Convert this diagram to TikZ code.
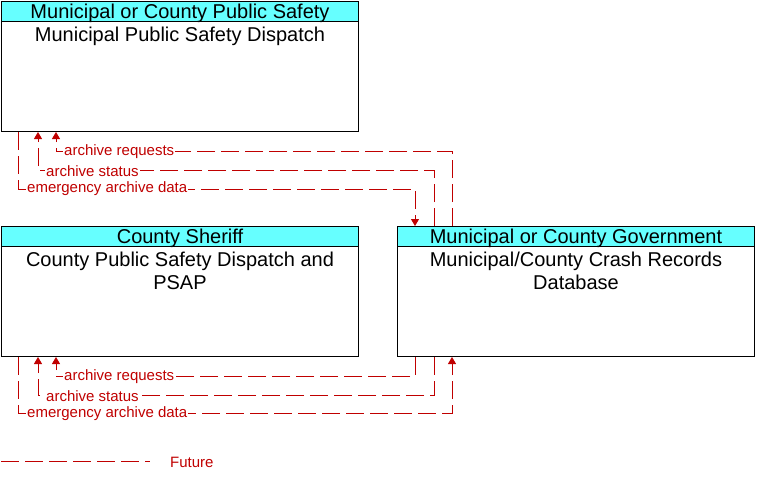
\documentclass[tikz,border=0pt]{standalone}
\usepackage{fontspec}
\setmainfont{Liberation Sans}
\usetikzlibrary{arrows.meta,calc}
\definecolor{flowred}{RGB}{192,0,0}
\definecolor{hdrcyan}{RGB}{102,255,255}
\begin{document}
\begin{tikzpicture}[x=1pt,y=-1pt,
 box/.style={draw=black,line width=1pt,minimum width=357pt,minimum height=130pt,anchor=north west,inner sep=0pt},
 hdr/.style={draw=black,line width=1pt,fill=hdrcyan,minimum width=357pt,minimum height=20pt,anchor=north west,inner sep=0pt},
 hdrtext/.style={font=\fontsize{20}{20}\selectfont,inner sep=0pt},
 body/.style={font=\fontsize{20}{23}\selectfont,align=center,anchor=north,inner sep=0pt},
 flow/.style={draw=flowred,line width=1pt,dash pattern=on 18pt off 6pt},
 tip/.style={-{Triangle[width=8pt,length=7pt]},flowred},
 lbl/.style={font=\fontsize{15}{16}\selectfont,text=flowred,fill=white,inner sep=1pt,anchor=west}]
\useasboundingbox (0,0) rectangle (764,479);
% boxes
\node[box] (A) at (1,1) {};
\node[hdr] (Ah) at (1,1) {};
\node[hdrtext] (Ahl) at ($(Ah.center)+(0,1.5)$) {Municipal or County Public Safety};
\node[body] (At) at ($(Ah.south)+(0,4.5)$) {Municipal Public Safety Dispatch};
\node[box] (B) at (1,226) {};
\node[hdr] (Bh) at (1,226) {};
\node[hdrtext] (Bhl) at ($(Bh.center)+(0,1.5)$) {County Sheriff};
\node[body] (Bt) at ($(Bh.south)+(0,4.5)$) {County Public Safety Dispatch and\\PSAP};
\node[box] (C) at (397,226) {};
\node[hdr] (Ch) at (397,226) {};
\node[hdrtext] (Chl) at ($(Ch.center)+(0,1.5)$) {Municipal or County Government};
\node[body] (Ct) at ($(Ch.south)+(0,4.5)$) {Municipal/County Crash Records\\Database};
% top flows
\draw[flow,tip] ($(C.north west)+(55,0)$) -- ++(0,-75) -| ($(A.south west)+(55,0)$);
\draw[flow,tip] ($(C.north west)+(37,0)$) -- ++(0,-56) -| ($(A.south west)+(37,0)$);
\draw[flow,tip] ($(A.south west)+(17,0)$) -- ++(0,57) -| ($(C.north west)+(18,0)$);
\node[lbl] (l1) at (63,152) {archive requests};
\node[lbl] (l2) at (45,171) {archive status};
\node[lbl] (l3) at (26,189) {emergency archive data};
% bottom flows
\draw[flow,tip] ($(C.south west)+(18,0)$) -- ++(0,19) -| ($(B.south west)+(55,0)$);
\draw[flow,tip] ($(C.south west)+(37,0)$) -- ++(0,38) -| ($(B.south west)+(37,0)$);
\draw[flow,tip] ($(B.south west)+(17,0)$) -- ++(0,56) -| ($(C.south west)+(55,0)$);
\node[lbl] (l4) at (63,377) {archive requests};
\node[lbl] (l5) at (45,396) {archive status};
\node[lbl] (l6) at (26,414) {emergency archive data};
% legend
\coordinate (L1) at (1,461);
\coordinate (L2) at (150,461);
\draw[flow] (L1) -- (L2);
\node[lbl,fill=none] (fut) at (169,462) {Future};
\end{tikzpicture}
\end{document}
